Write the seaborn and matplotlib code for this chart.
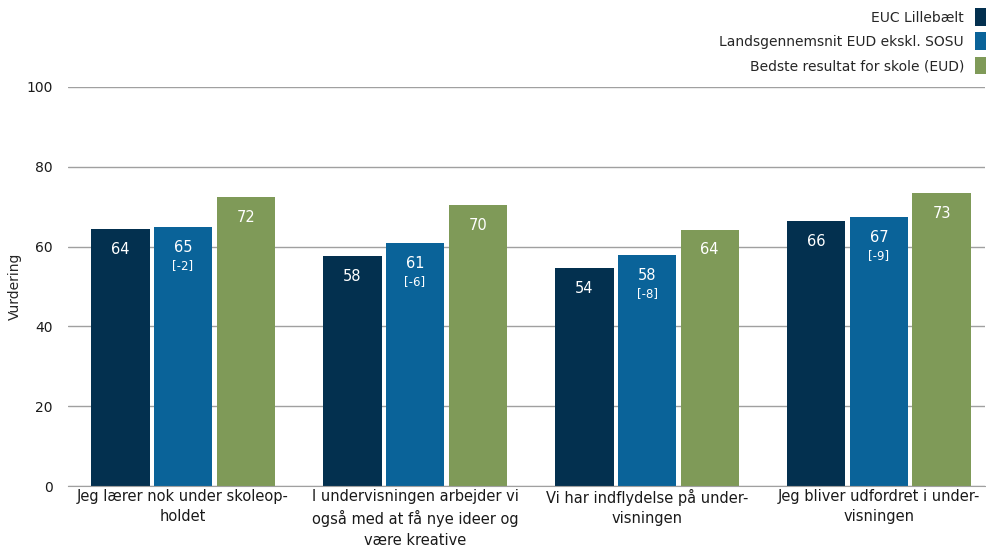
import numpy as np
import pandas as pd
import matplotlib
matplotlib.use("Agg")
import matplotlib.pyplot as plt
import seaborn as sns

# Data
categories = [
    "Jeg lærer nok under skoleop-\nholdet",
    "I undervisningen arbejder vi\nogså med at få nye ideer og\nvære kreative",
    "Vi har indflydelse på under-\nvisningen",
    "Jeg bliver udfordret i under-\nvisningen",
]
series = ["EUC Lillebælt", "Landsgennemsnit EUD ekskl. SOSU", "Bedste resultat for skole (EUD)"]
euc = [64.4, 57.6, 54.6, 66.4]
lands = [64.9, 60.9, 57.9, 67.4]
best = [72.4, 70.4, 64.2, 73.4]
euc_lbl = ["64", "58", "54", "66"]
lands_lbl = ["65", "61", "58", "67"]
best_lbl = ["72", "70", "64", "73"]
diff_lbl = ["[-2]", "[-6]", "[-8]", "[-9]"]

colors = ["#03304f", "#0a6399", "#7f9a58"]

df = pd.DataFrame({
    "cat": categories * 3,
    "serie": np.repeat(series, 4),
    "val": euc + lands + best,
})

sns.set_style("white")
plt.rcParams["font.family"] = ["DejaVu Sans"]

fig = plt.figure(figsize=(9.86, 5.48), dpi=100)
ax = fig.add_axes([68 / 986, 1 - 486 / 548, (985 - 68) / 986, (486 - 87) / 548])

sns.barplot(data=df, x="cat", y="val", hue="serie", palette=colors,
            width=0.81, gap=0.07, saturation=1, linewidth=0, ax=ax, legend=True)

ax.set_ylim(0, 100)
ax.set_xlim(-0.496, 3.457)
ax.set_yticks([0, 20, 40, 60, 80, 100])
ax.yaxis.grid(True, color="#a0a0a0", linewidth=1)
ax.set_axisbelow(True)
for s in ["top", "right", "left"]:
    ax.spines[s].set_visible(False)
ax.spines["bottom"].set_color("#a0a0a0")
ax.tick_params(axis="both", length=0, colors="#1a1a1a")
ax.tick_params(axis="y", pad=11, labelsize=10)
ax.tick_params(axis="x", pad=2, labelsize=10.5)
for t in ax.get_xticklabels():
    t.set_linespacing(1.45)
ax.set_xlabel("")
ax.set_ylabel("Vurdering", fontsize=10, labelpad=3)

labels_all = [euc_lbl, lands_lbl, best_lbl]
for cont, lbls in zip(ax.containers, labels_all):
    for bar, lab in zip(cont, lbls):
        x = bar.get_x() + bar.get_width() / 2
        ax.annotate(lab, (x, bar.get_height()), xytext=(0, -14.5), textcoords="offset points",
                    ha="center", va="center", color="white", fontsize=10.5)
for bar, lab in zip(ax.containers[1], diff_lbl):
    x = bar.get_x() + bar.get_width() / 2
    ax.annotate(lab, (x, bar.get_height()), xytext=(0, -27.5), textcoords="offset points",
                ha="center", va="center", color="white", fontsize=8.5)

handles, labs = ax.get_legend_handles_labels()
ax.get_legend().remove()
fig.legend(handles, labs, loc="upper right", bbox_to_anchor=(1.008, 1.0),
           markerfirst=False, frameon=False, fontsize=10, handlelength=0.75,
           handleheight=1.6, handletextpad=0.8, labelspacing=0.45, borderaxespad=0.2)

fig.savefig("out.png", dpi=100)
